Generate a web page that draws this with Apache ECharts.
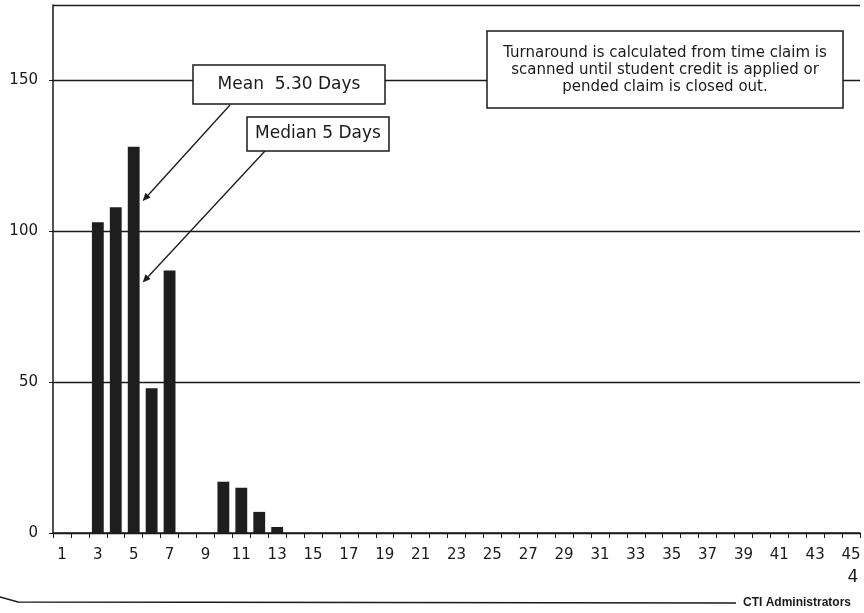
<!DOCTYPE html>
<html><head><meta charset="utf-8">
<script src="https://cdn.jsdelivr.net/npm/echarts@6/dist/echarts.min.js"></script>
<style>html,body{margin:0;padding:0;background:#fff}#c{width:864px;height:613px}</style>
</head><body><div id="c"></div>
<script>
// Turnaround (days) categories
const days = ['1','2','3','4','5','6','7','8','9','10','11','12','13','14','15','16','17','18','19','20',
  '21','22','23','24','25','26','27','28','29','30','31','32','33','34','35','36','37','38','39','40',
  '41','42','43','44','45'];
// Number of claims per turnaround day
const claims = [0,0,103,108,128,48,87,0,0,17,15,7,2,0,0,0,0,0,0,0,
  0,0,0,0,0,0,0,0,0,0,0,0,0,0,0,0,0,0,0,0,
  0,0,0,0,0];
const yMin = 0, yMax = 175, yInterval = 50;
const meanLabel = 'Mean  5.30 Days';
const medianLabel = 'Median 5 Days';
const noteLines = ['Turnaround is calculated from time claim is',
  'scanned until student credit is applied or',
  'pended claim is closed out.'];
const arrowBetween = ['5','6'];
const meanArrowValue = 110;
const medianArrowValue = 83;
const pageNumber = '4';
const footerText = 'CTI Administrators';

const chart = echarts.init(document.getElementById('c'));
const ink = '#1a1a1a';
const font = 'DejaVu Sans';
chart.setOption({
  backgroundColor: '#fff',
  animation: false,
  grid: {left: 53, right: 4, top: 5, bottom: 80, containLabel: false},
  xAxis: {
    type: 'category', data: days,
    axisLine: {lineStyle: {color: ink, width: 1.5}},
    axisTick: {show: true, interval: 0, length: 5, lineStyle: {color: ink}},
    axisLabel: {interval: 1, color: ink, fontFamily: font, fontSize: 15, margin: 15}
  },
  yAxis: {
    type: 'value', min: yMin, max: yMax, interval: yInterval,
    axisLine: {show: true, lineStyle: {color: ink, width: 1.5}},
    axisTick: {show: true, length: 4, lineStyle: {color: ink}},
    axisLabel: {showMaxLabel: false, color: ink, fontFamily: font, fontSize: 15, margin: 15},
    splitLine: {lineStyle: {color: ink, width: 1.3}}
  },
  series: [{
    type: 'bar', data: claims, barWidth: '66%',
    itemStyle: {color: '#1e1e1e'}
  }]
});

function arrow(x0, y0, x1, y1) {
  const ang = Math.atan2(y1 - y0, x1 - x0);
  const L = 8, W = 3.5;
  const bx = x1 - L * Math.cos(ang), by = y1 - L * Math.sin(ang);
  const px = -Math.sin(ang) * W, py = Math.cos(ang) * W;
  return [
    {type: 'line', z: 100, shape: {x1: x0, y1: y0, x2: bx, y2: by}, style: {stroke: ink, lineWidth: 1.3}},
    {type: 'polygon', z: 100, shape: {points: [[x1, y1], [bx + px, by + py], [bx - px, by - py]]}, style: {fill: ink}}
  ];
}
const pa = chart.convertToPixel({seriesIndex: 0}, [arrowBetween[0], meanArrowValue]);
const pb = chart.convertToPixel({seriesIndex: 0}, [arrowBetween[1], meanArrowValue]);
const tipX = (pa[0] + pb[0]) / 2;
const meanTipY = pa[1];
const medTipY = chart.convertToPixel({seriesIndex: 0}, [arrowBetween[0], medianArrowValue])[1];

const g = [];
g.push(...arrow(230, 105, tipX, meanTipY));
g.push(...arrow(265, 151, tipX, medTipY));
g.push({type: 'rect', z: 101, shape: {x: 193, y: 65, width: 192, height: 39}, style: {fill: '#fff', stroke: ink, lineWidth: 1.5}});
g.push({type: 'text', z: 102, style: {text: meanLabel, x: 289, y: 85, align: 'center', verticalAlign: 'middle', font: '17px "DejaVu Sans"', fill: ink}});
g.push({type: 'rect', z: 101, shape: {x: 247, y: 117, width: 142, height: 34}, style: {fill: '#fff', stroke: ink, lineWidth: 1.5}});
g.push({type: 'text', z: 102, style: {text: medianLabel, x: 318, y: 134, align: 'center', verticalAlign: 'middle', font: '17px "DejaVu Sans"', fill: ink}});
g.push({type: 'rect', z: 101, shape: {x: 487, y: 31, width: 356, height: 77}, style: {fill: '#fff', stroke: ink, lineWidth: 1.5}});
g.push({type: 'text', z: 102, style: {text: noteLines.join('\n'), x: 665, y: 70, align: 'center', verticalAlign: 'middle', lineHeight: 17, font: '15px "DejaVu Sans"', fill: ink}});
g.push({type: 'text', z: 102, style: {text: pageNumber, x: 853, y: 578, align: 'center', verticalAlign: 'middle', font: '17px "DejaVu Sans"', fill: ink}});
g.push({type: 'polyline', z: 100, shape: {points: [[0, 597], [18, 602], [736, 603]]}, style: {stroke: ink, lineWidth: 1.3, fill: null}});
g.push({type: 'text', z: 102, style: {text: footerText, x: 743, y: 603, align: 'left', verticalAlign: 'middle', font: 'bold 12px "Liberation Sans"', fill: ink}});
chart.setOption({graphic: g});
</script>
</body></html>
